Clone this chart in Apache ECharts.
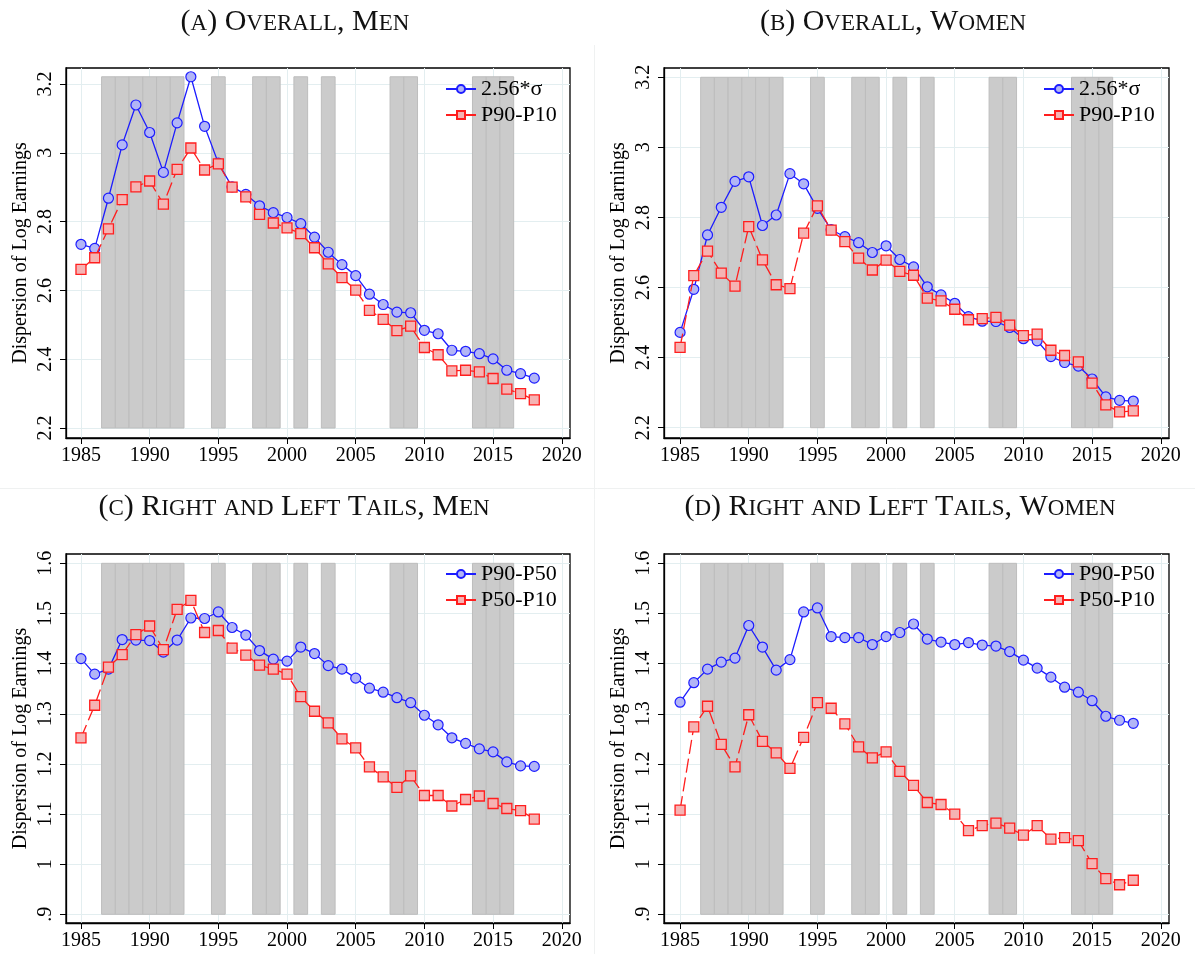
<!DOCTYPE html>
<html>
<head>
<meta charset="utf-8">
<script src="https://cdn.jsdelivr.net/npm/echarts@6/dist/echarts.min.js"></script>
<style>
  html, body { margin: 0; padding: 0; background: #fff; }
  #chart { width: 1195px; height: 954px; }
</style>
</head>
<body>
<div id="chart"></div>
<script>
// Survey years
const years = [1985, 1986, 1987, 1988, 1989, 1990, 1991, 1992, 1993, 1994, 1995, 1996,
  1997, 1998, 1999, 2000, 2001, 2002, 2003, 2004, 2005, 2006, 2007, 2008, 2009, 2010,
  2011, 2012, 2013, 2014, 2015, 2016, 2017, 2018];

// Years shaded as recession years
const recessionYears = [1987, 1988, 1989, 1990, 1991, 1992, 1995, 1998, 1999, 2001, 2003,
  2008, 2009, 2014, 2015, 2016];

// Tick labels
const xTicks = [1985, 1990, 1995, 2000, 2005, 2010, 2015, 2020];
const yTicksOverall = [2.2, 2.4, 2.6, 2.8, 3, 3.2];
const yTicksTails = [0.9, 1, 1.1, 1.2, 1.3, 1.4, 1.5, 1.6];

// (a) Overall, men
const menSigma = [2.734, 2.722, 2.868, 3.023, 3.139, 3.059, 2.943, 3.087, 3.221, 3.077,
  2.970, 2.901, 2.879, 2.846, 2.826, 2.812, 2.794, 2.755, 2.711, 2.675, 2.643, 2.589,
  2.559, 2.537, 2.535, 2.484, 2.474, 2.426, 2.423, 2.416, 2.401, 2.368, 2.358, 2.345];
const menP90P10 = [2.661, 2.695, 2.779, 2.864, 2.901, 2.918, 2.851, 2.952, 3.014, 2.950,
  2.968, 2.900, 2.872, 2.821, 2.796, 2.782, 2.765, 2.724, 2.677, 2.637, 2.601, 2.542,
  2.516, 2.483, 2.496, 2.434, 2.413, 2.366, 2.368, 2.363, 2.344, 2.313, 2.300, 2.282];

// (b) Overall, women
const womenSigma = [2.472, 2.595, 2.750, 2.829, 2.903, 2.916, 2.777, 2.807, 2.925, 2.896,
  2.826, 2.765, 2.745, 2.728, 2.700, 2.719, 2.680, 2.659, 2.602, 2.579, 2.555, 2.517,
  2.504, 2.503, 2.486, 2.454, 2.448, 2.403, 2.386, 2.376, 2.339, 2.288, 2.278, 2.276];
const womenP90P10 = [2.429, 2.634, 2.704, 2.641, 2.604, 2.774, 2.679, 2.608, 2.597, 2.755,
  2.833, 2.764, 2.731, 2.684, 2.650, 2.678, 2.646, 2.635, 2.570, 2.562, 2.538, 2.508,
  2.511, 2.515, 2.493, 2.463, 2.467, 2.421, 2.406, 2.388, 2.327, 2.265, 2.245, 2.248];

// (c) Right and left tails, men
const menP90P50 = [1.410, 1.379, 1.389, 1.448, 1.447, 1.446, 1.423, 1.447, 1.491, 1.490,
  1.503, 1.472, 1.457, 1.426, 1.409, 1.405, 1.433, 1.420, 1.396, 1.389, 1.371, 1.351,
  1.343, 1.332, 1.322, 1.297, 1.278, 1.252, 1.241, 1.230, 1.224, 1.204, 1.196, 1.195];
const menP50P10 = [1.252, 1.317, 1.393, 1.418, 1.458, 1.475, 1.428, 1.508, 1.526, 1.462,
  1.466, 1.431, 1.417, 1.397, 1.389, 1.379, 1.334, 1.305, 1.282, 1.250, 1.232, 1.194,
  1.174, 1.153, 1.176, 1.137, 1.137, 1.116, 1.129, 1.136, 1.121, 1.111, 1.107, 1.090];

// (d) Right and left tails, women
const womenP90P50 = [1.323, 1.362, 1.389, 1.403, 1.411, 1.476, 1.433, 1.387, 1.408, 1.503,
  1.511, 1.454, 1.452, 1.452, 1.438, 1.454, 1.462, 1.479, 1.449, 1.443, 1.438, 1.442,
  1.437, 1.435, 1.424, 1.407, 1.391, 1.373, 1.353, 1.343, 1.326, 1.295, 1.287, 1.281];
const womenP50P10 = [1.108, 1.274, 1.315, 1.239, 1.194, 1.298, 1.245, 1.222, 1.191, 1.253,
  1.322, 1.311, 1.280, 1.234, 1.212, 1.224, 1.185, 1.157, 1.123, 1.119, 1.100, 1.067,
  1.077, 1.082, 1.072, 1.058, 1.077, 1.050, 1.053, 1.047, 1.001, 0.971, 0.959, 0.968];

const FONT = 'Liberation Serif';
const BLUE = '#1c1cff';
const RED = '#ff1e1e';

// Panel layout: plot rectangle in pixels and the value range each rectangle spans
const panels = [
  { title: '(a) Overall, Men', cx: 295, cy: 20,
    rect: { left: 66, top: 68, width: 504, height: 370 },
    x: [1983.91, 2020.60], y: [2.171, 3.2465], ticks: yTicksOverall,
    legendPos: { left: 445, top: 78 },
    series: [['2.56*σ', menSigma], ['P90-P10', menP90P10]] },
  { title: '(b) Overall, Women', cx: 893, cy: 20,
    rect: { left: 664, top: 68, width: 505, height: 370 },
    x: [1983.83, 2020.60], y: [2.1706, 3.2265], ticks: yTicksOverall,
    legendPos: { left: 1043, top: 78 },
    series: [['2.56*σ', womenSigma], ['P90-P10', womenP90P10]] },
  { title: '(c) Right and Left Tails, Men', cx: 294, cy: 505,
    rect: { left: 66, top: 554, width: 504, height: 369 },
    x: [1983.91, 2020.60], y: [0.8827, 1.6186], ticks: yTicksTails,
    legendPos: { left: 445, top: 563 },
    series: [['P90-P50', menP90P50], ['P50-P10', menP50P10]] },
  { title: '(d) Right and Left Tails, Women', cx: 900, cy: 505,
    rect: { left: 664, top: 554, width: 505, height: 369 },
    x: [1983.83, 2020.60], y: [0.8827, 1.6186], ticks: yTicksTails,
    legendPos: { left: 1043, top: 563 },
    series: [['P90-P50', womenP90P50], ['P50-P10', womenP50P10]] }
];

// Small-caps caption: capitals at full size, lower-case letters as smaller capitals
function smallCaps(str) {
  let out = '';
  let cur = null, buf = '';
  for (const ch of str) {
    const isLower = ch !== ch.toUpperCase();
    const kind = isLower ? 's' : 'b';
    if (kind !== cur && buf) { out += '{' + cur + '|' + buf + '}'; buf = ''; }
    cur = kind;
    buf += isLower ? ch.toUpperCase() : ch;
  }
  if (buf) out += '{' + cur + '|' + buf + '}';
  return out;
}

function tickText(v) {
  let s = String(Math.round(v * 100) / 100);
  if (s.startsWith('0.')) s = s.slice(1);
  return s;
}

const grids = [], xAxes = [], yAxes = [], series = [], legends = [], graphics = [];

panels.forEach((p, i) => {
  grids.push(Object.assign({
    show: true, borderColor: '#000', borderWidth: 1.3, backgroundColor: '#fff',
    containLabel: false
  }, p.rect));

  xAxes.push({
    type: 'value', gridIndex: i, min: p.x[0], max: p.x[1],
    axisLine: { show: true, onZero: false, lineStyle: { color: '#000', width: 1.3 } },
    axisTick: { show: true, length: 6, customValues: xTicks, lineStyle: { color: '#000', width: 1 } },
    axisLabel: { customValues: xTicks, margin: 8, fontFamily: FONT, fontSize: 20, color: '#000',
      formatter: v => String(Math.round(v)) },
    splitLine: { show: true, lineStyle: { color: '#e3eef0', width: 1 } }
  });

  yAxes.push({
    type: 'value', gridIndex: i, min: p.y[0], max: p.y[1],
    name: 'Dispersion of Log Earnings', nameLocation: 'middle', nameGap: 35,
    nameTextStyle: { fontFamily: FONT, fontSize: 20, color: '#000' },
    axisLine: { show: true, onZero: false, lineStyle: { color: '#000', width: 1.3 } },
    axisTick: { show: true, length: 6, customValues: p.ticks, lineStyle: { color: '#000', width: 1 } },
    axisLabel: { customValues: p.ticks, rotate: 90, margin: 10, fontFamily: FONT, fontSize: 20,
      color: '#000', formatter: tickText },
    splitLine: { show: true, lineStyle: { color: '#e3eef0', width: 1 } }
  });

  // Recession shading: one box per year, from the lowest tick up to the top of the data
  const allVals = p.series[0][1].concat(p.series[1][1]);
  const lo = p.ticks[0];
  const hi = Math.max(p.ticks[p.ticks.length - 1], Math.max.apply(null, allVals));
  series.push({
    type: 'line', xAxisIndex: i, yAxisIndex: i, data: [], silent: true, z: 1,
    markArea: {
      silent: true,
      itemStyle: { color: '#cbcbcb', borderColor: '#bdbdbd', borderWidth: 1 },
      data: recessionYears.map(yr => [{ xAxis: yr - 0.5, yAxis: lo }, { xAxis: yr + 0.5, yAxis: hi }])
    }
  });

  const [blueName, blueVals] = p.series[0];
  const [redName, redVals] = p.series[1];
  series.push({
    type: 'line', name: blueName, xAxisIndex: i, yAxisIndex: i, z: 3,
    data: years.map((yr, k) => [yr, blueVals[k]]),
    symbol: 'circle', symbolSize: 10,
    lineStyle: { color: BLUE, width: 1.3 },
    itemStyle: { color: '#b2b5f6', borderColor: BLUE, borderWidth: 1.2 },
    emphasis: { disabled: true }
  });
  series.push({
    type: 'line', name: redName, xAxisIndex: i, yAxisIndex: i, z: 4,
    data: years.map((yr, k) => [yr, redVals[k]]),
    symbol: 'rect', symbolSize: 10,
    lineStyle: { color: RED, width: 1.3, type: [14, 5] },
    itemStyle: { color: '#f5b3b3', borderColor: RED, borderWidth: 1.3 },
    emphasis: { disabled: true }
  });

  legends.push({
    data: [blueName, redName], orient: 'vertical',
    left: p.legendPos.left, top: p.legendPos.top, padding: 0,
    itemWidth: 30, itemHeight: 10, itemGap: 4, selectedMode: false,
    textStyle: { fontFamily: FONT, fontSize: 22, color: '#000', lineHeight: 22 }
  });

  // caption: both sizes share one line box and sit on a common bottom edge
  graphics.push({
    type: 'text', x: p.cx, y: p.cy, silent: true,
    style: {
      text: smallCaps(p.title), align: 'center', verticalAlign: 'middle',
      rich: {
        b: { fontFamily: FONT, fontSize: 30, lineHeight: 34, verticalAlign: 'bottom', fill: '#111' },
        s: { fontFamily: FONT, fontSize: 23, lineHeight: 34, verticalAlign: 'bottom',
          padding: [0, 0, 1.5, 0], fill: '#111' }
      }
    }
  });
});

// faint panel dividers
graphics.push({ type: 'line', silent: true, shape: { x1: 594.5, y1: 45, x2: 594.5, y2: 954 },
  style: { stroke: '#eff1f1', lineWidth: 1 } });
graphics.push({ type: 'line', silent: true, shape: { x1: 0, y1: 488.5, x2: 1195, y2: 488.5 },
  style: { stroke: '#eff1f1', lineWidth: 1 } });

const chart = echarts.init(document.getElementById('chart'), null, { renderer: 'canvas' });
chart.setOption({
  backgroundColor: '#fff',
  animation: false,
  grid: grids,
  xAxis: xAxes,
  yAxis: yAxes,
  legend: legends,
  series: series,
  graphic: graphics
});
</script>
</body>
</html>
